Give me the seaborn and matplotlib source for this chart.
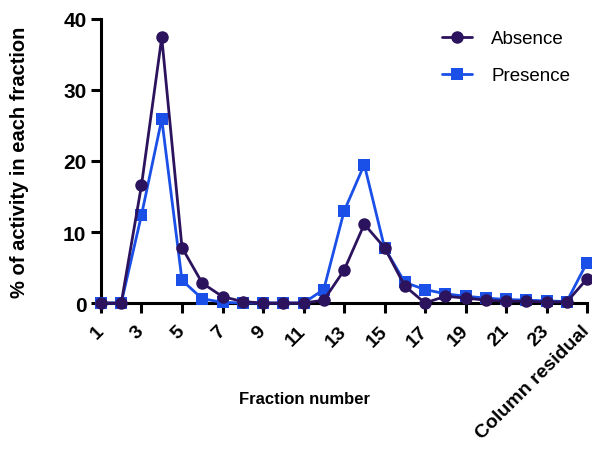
import matplotlib
matplotlib.use("Agg")
import matplotlib.pyplot as plt
import matplotlib.transforms as mtransforms
import seaborn as sns
import pandas as pd
from matplotlib.lines import Line2D

fractions = list(range(1, 26))
tick_positions = list(range(1, 26, 2))
tick_labels = [str(i) for i in range(1, 24, 2)] + ["Column residual"]

absence = [0, 0, 16.6, 37.4, 7.8, 2.8, 0.9, 0.2, 0, 0, 0, 0.4, 4.6, 11.1,
           7.8, 2.4, 0, 0.95, 0.7, 0.4, 0.25, 0.25, 0.15, 0.15, 3.4]
presence = [0, 0, 12.4, 25.9, 3.2, 0.6, 0.1, 0, 0, 0, 0, 1.9, 12.9, 19.5,
            7.8, 2.9, 1.9, 1.3, 0.95, 0.7, 0.5, 0.4, 0.3, 0.2, 5.7]

series_names = ["Absence", "Presence"]
colors = {"Absence": "#2c135e", "Presence": "#1a4fe8"}
markers = {"Absence": "o", "Presence": "s"}
sizes = {"Absence": 9.0, "Presence": 8.0}

df = pd.DataFrame({
    "fraction": fractions * 2,
    "value": absence + presence,
    "group": ["Absence"] * len(absence) + ["Presence"] * len(presence),
})

sns.set_style("ticks", {"text.color": "black", "axes.labelcolor": "black",
                        "xtick.color": "black", "ytick.color": "black",
                        "axes.edgecolor": "black"})
plt.rcParams["font.family"] = ["Liberation Sans", "DejaVu Sans"]

fig = plt.figure(figsize=(5.92, 4.52), dpi=100)
ax = fig.add_axes([0.1706, 0.3274, 0.8210, 0.6284])

# Presence first so that the Absence series sits on top
for name in ["Presence", "Absence"]:
    sub = df[df["group"] == name]
    sns.lineplot(data=sub, x="fraction", y="value", ax=ax, color=colors[name],
                 marker=markers[name], markersize=sizes[name], linewidth=2.0,
                 markeredgewidth=0, clip_on=False, legend=False, zorder=3)

ax.set_xlim(1, 25)
ax.set_ylim(0, 40)
ax.set_yticks([0, 10, 20, 30, 40])
ax.set_xticks(tick_positions)
ax.set_xticklabels(tick_labels, rotation=45, ha="right", va="center",
                   rotation_mode="anchor", fontsize=14, fontweight="bold",
                   color="black")
shift = mtransforms.ScaledTranslation(4 / 100, 0, fig.dpi_scale_trans)
for lbl in ax.get_xticklabels():
    lbl.set_transform(lbl.get_transform() + shift)
for lbl in ax.get_yticklabels():
    lbl.set_fontsize(15)
    lbl.set_fontweight("bold")
    lbl.set_color("black")

ax.set_xlabel("")
ax.set_ylabel("")
fig.text(304.5 / 592, 1 - 400 / 452, "Fraction number", fontsize=12,
         fontweight="bold", ha="center", va="center", color="black")
fig.text(20 / 592, 1 - 162 / 452, "% of activity in each fraction", fontsize=14.5,
         fontweight="bold", ha="center", va="center", rotation=90, color="black")

for side in ["top", "right"]:
    ax.spines[side].set_visible(False)
for side in ["left", "bottom"]:
    ax.spines[side].set_linewidth(2.2)
    ax.spines[side].set_color("black")
ax.tick_params(axis="both", length=7, width=2.2, color="black", direction="out")
ax.tick_params(axis="x", pad=11)

handles = [Line2D([0], [0], color=colors[n], marker=markers[n], markersize=sizes[n],
                  linewidth=2.0, markeredgewidth=0) for n in series_names]
leg = ax.legend(handles, series_names, loc="upper right", bbox_to_anchor=(1.0, 1.02),
                frameon=False, fontsize=13.5, handlelength=1.6, handletextpad=1.0,
                labelspacing=1.05)
for t in leg.get_texts():
    t.set_color("black")

fig.savefig("out.png", dpi=100)
